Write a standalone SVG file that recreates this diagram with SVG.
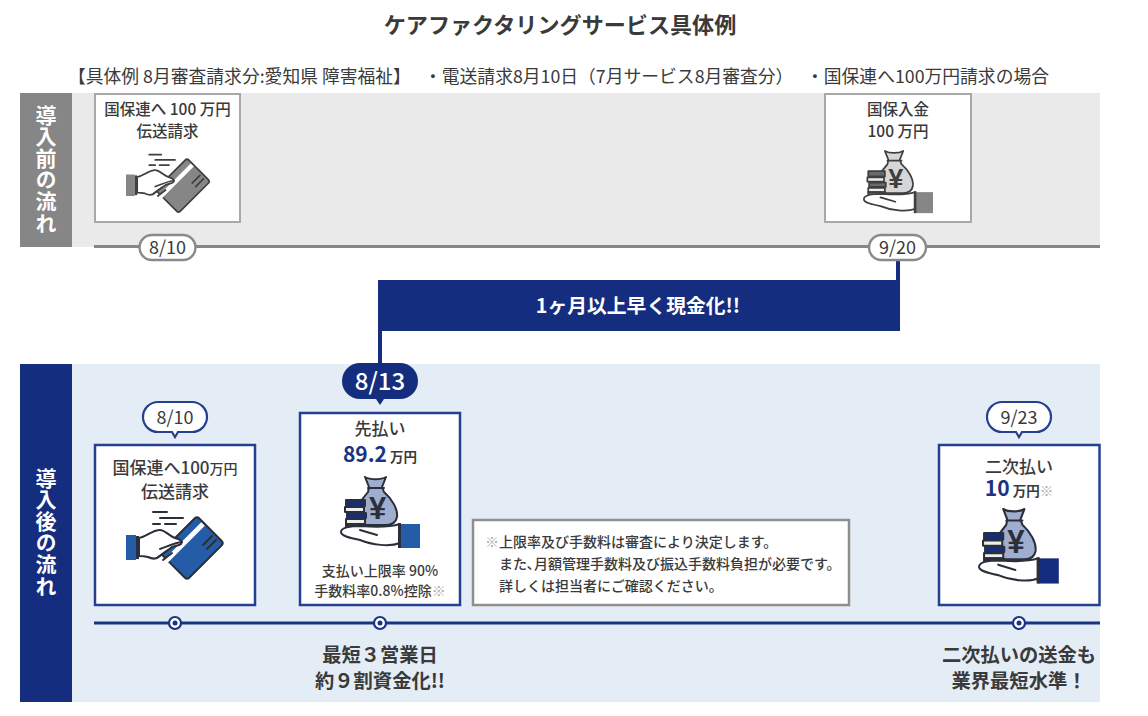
<svg xmlns="http://www.w3.org/2000/svg" width="1148" height="716" viewBox="0 0 1148 716">
<style>
text{font-family:"Noto Sans CJK JP","Noto Sans",sans-serif;fill:#3a3a3a;text-anchor:middle}
.b{font-weight:700}
.side{font-size:21px;font-weight:700;fill:#fff;writing-mode:vertical-rl;letter-spacing:.6px}
.t15{font-size:15.5px;font-weight:500}
.t17{font-size:17px;font-weight:500}
.t12{font-size:14px;font-weight:500}
.n{font-size:14px;font-weight:500;text-anchor:start}
.d{font-size:18px}
.lead{font-size:17.8px;font-weight:400;text-anchor:start}
.cap{font-size:19.3px;font-weight:700}
.navy{fill:#1a3484}
.gbox{fill:#fff;stroke:#a8a8a8;stroke-width:2}
.bbox{fill:#fff;stroke:#24408f;stroke-width:2.5}
.pill{fill:#fff;stroke:#8a8a8a;stroke-width:2.5}
.bub{fill:#fff;stroke:#24408f;stroke-width:2.2}
.dot{fill:#fff;stroke:#1a3484;stroke-width:2.2}
.ic{stroke:var(--k);stroke-width:2;stroke-linejoin:round;stroke-linecap:round}
.gr{--k:#3f3f3f;--a:#868686;--b:#d6d6d6;--c:#6b6b6b}
.bl{--k:#2b2f3a;--a:#245ca8;--b:#9fadcf;--c:#142d7e}
.bn{--k:#2b2f3a;--a:#142d7e;--b:#9fadcf;--c:#142d7e}
</style>
<defs>
<g id="card">
<path class="ic" fill="none" d="M27 2H41M34 8H57M27 14H34M39 14H50"/>
<rect class="ic" x="40" y="19" width="52" height="38" rx="3" transform="rotate(-45 66 38)" style="fill:var(--a)"/>
<path d="M36 55L77 14" stroke="#fff" stroke-width="5" fill="none"/>
<path class="ic" fill="none" d="M77 35L86 26M81 39L90 30"/>
<path class="ic" fill="#fff" d="M13 28C20 27 25 21 33 20C39 19 43 27 52 29C56 30 57 34 53 35L46 37L34 46C30 50 26 49 22 47C18 46 15 46 13 46Z"/>
<path class="ic" fill="#fff" d="M34 39C40 37 48 33 56 32M32 47L42 40M37 50L46 43"/>
<rect x="0" y="25" width="10" height="25" style="fill:var(--a)"/>
<rect x="10" y="26" width="3" height="23" style="fill:var(--k)"/>
</g>
<g id="bag">
<path class="ic" d="M25 0C30 3 41 3 46 0L42 10L44 15C52 22 58 32 57 40C56 45 52 48 46 48H26C22 46 20 30 20 25L28 15L29 10Z" style="fill:var(--b)"/>
<path class="ic" fill="none" d="M28 11H44"/>
<text x="37.500" y="42" style="font-size:31px;font-weight:700;fill:var(--k);font-family:'Liberation Sans',sans-serif">¥</text>
<g>
<rect class="ic" x="6" y="23" width="19" height="6" style="fill:var(--c)"/>
<rect class="ic" x="5" y="30" width="19" height="5" fill="#eee"/>
<rect class="ic" x="7" y="36" width="19" height="5" style="fill:var(--c)"/>
<rect class="ic" x="6" y="42" width="19" height="5" fill="#eee"/>
<rect class="ic" x="6" y="47" width="19" height="4" style="fill:var(--c)"/>
</g>
<path class="ic" fill="#fff" d="M60 47C50 50 35 50 22 49C12 49 1 50 1 55C1 59 10 61 20 63C32 68 50 70 60 66Z"/>
<path class="ic" fill="none" d="M20 53L37 58"/>
<rect x="60" y="47" width="20" height="24" style="fill:var(--a)"/>
<rect x="58" y="46" width="3" height="25" style="fill:var(--k)"/>
</g>
</defs>

<text id="title" x="560" y="33" class="b" style="font-size:22.100px">ケアファクタリングサービス具体例</text>
<g id="lead">
<text class="lead" x="68" y="83">【具体例 8月審査請求分:愛知県 障害福祉】</text>
<text class="lead" x="424" y="83">・電送請求8月10日（7月サービス8月審査分）</text>
<text class="lead" x="806" y="83">・国保連へ100万円請求の場合</text>
</g>

<g id="before-band">
<rect x="20" y="93" width="1080" height="154" fill="#eaeaea"/>
<rect x="20" y="93" width="52" height="154" fill="#868686"/>
<text class="side" x="46" y="169">導入前の流れ</text>
</g>
<g id="after-band">
<rect x="20" y="364" width="1080" height="338" fill="#e4edf5"/>
<rect x="20" y="364" width="52" height="338" fill="#142d7e"/>
<text class="side" x="46" y="532">導入後の流れ</text>
</g>

<g id="connectors">
<path d="M94 246.500H1100" stroke="#868686" stroke-width="3" fill="none"/>
<path d="M94 623H1100" stroke="#1a3484" stroke-width="3" fill="none"/>
<path d="M898 258V282M380 329V366" stroke="#142d7e" stroke-width="4" fill="none"/>
</g>

<g id="before-claim">
<rect class="gbox" x="95" y="94" width="145" height="128"/>
<text class="t15" x="167.500" y="115">国保連へ 100 万円</text>
<text class="t15" x="167.500" y="137">伝送請求</text>
<use href="#card" class="gr" transform="translate(126 153) scale(.86)"/>
</g>
<g id="before-date-1">
<rect class="pill" x="139.500" y="235" width="56" height="25" rx="12.500"/>
<text class="d" x="167.500" y="254">8/10</text>
</g>
<g id="before-pay">
<rect class="gbox" x="825" y="94" width="146" height="128"/>
<text class="t15" x="898" y="115">国保入金</text>
<text class="t15" x="898" y="137">100 万円</text>
<use href="#bag" class="gr" transform="translate(863 151) scale(.875)"/>
</g>
<g id="before-date-2">
<rect class="pill" x="869" y="235" width="57" height="25" rx="12.500"/>
<text class="d" x="897.500" y="254">9/20</text>
</g>

<g id="banner">
<rect x="378" y="280" width="522" height="51" fill="#142d7e"/>
<text class="b" x="638" y="313" style="font-size:19.800px;fill:#fff">1ヶ月以上早く現金化!!</text>
</g>

<g id="after-claim">
<rect class="bbox" x="95" y="445" width="160" height="160"/>
<text class="t17" x="175" y="474">国保連へ100<tspan style="font-size:14px">万円</tspan></text>
<text class="t17" x="175" y="498">伝送請求</text>
<use href="#card" class="bl" transform="translate(126 510)"/>
</g>
<g id="after-date-1">
<path class="bub" d="M158 402H192A15 15 0 0 1 192 432H178L175 437L172 432H158A15 15 0 0 1 158 402Z"/>
<text class="d" x="175" y="424">8/10</text>
</g>
<g id="after-pay">
<rect class="bbox" x="300" y="413" width="160" height="192"/>
<text class="t17" x="380" y="435">先払い</text>
<text class="b" x="380" y="462"><tspan class="navy" style="font-size:21px">89.2</tspan><tspan style="font-size:13.500px"> 万円</tspan></text>
<use href="#bag" class="bl" transform="translate(340 477)"/>
<text class="t12" x="380" y="576">支払い上限率 90%</text>
<text class="t12" x="380" y="596">手数料率0.8%控除<tspan style="fill:#aaa">※</tspan></text>
</g>
<g id="after-date-2">
<path d="M360 363H400A18 18 0 0 1 400 399H384L380 405L376 399H360A18 18 0 0 1 360 363Z" fill="#142d7e"/>
<text x="380" y="390" style="font-size:24px;fill:#fff;font-weight:500">8/13</text>
</g>
<g id="note">
<rect x="473" y="520" width="376" height="85" fill="#fff" stroke="#8f8f8f" stroke-width="2.500"/>
<text class="n" x="485" y="547"><tspan style="fill:#aaa">※</tspan>上限率及び手数料は審査により決定します。</text>
<text class="n" x="499" y="569">また､月額管理手数料及び振込手数料負担が必要です。</text>
<text class="n" x="499" y="591">詳しくは担当者にご確認ください。</text>
</g>
<g id="after-second">
<rect class="bbox" x="939" y="445" width="160.500" height="160"/>
<text class="t17" x="1019" y="473">二次払い</text>
<text class="b" x="1019" y="496"><tspan class="navy" style="font-size:21px">10</tspan><tspan style="font-size:13.500px"> 万円</tspan><tspan style="font-size:13.500px;fill:#aaa;font-weight:400">※</tspan></text>
<use href="#bag" class="bn" transform="translate(978 509) scale(1.01 1.05)"/>
</g>
<g id="after-date-3">
<path class="bub" d="M1002 402H1036A15 15 0 0 1 1036 432H1022L1019 437L1016 432H1002A15 15 0 0 1 1002 402Z"/>
<text class="d" x="1019" y="424">9/23</text>
</g>
<g id="dots">
<circle class="dot" cx="175" cy="623" r="6"/><circle cx="175" cy="623" r="2.500" fill="#1a3484"/>
<circle class="dot" cx="380" cy="623" r="6"/><circle cx="380" cy="623" r="2.500" fill="#1a3484"/>
<circle class="dot" cx="1019" cy="623" r="6"/><circle cx="1019" cy="623" r="2.500" fill="#1a3484"/>
</g>
<g id="caption-1">
<text class="cap" x="380" y="662">最短３営業日</text>
<text class="cap" x="380" y="688">約９割資金化!!</text>
</g>
<g id="caption-2">
<text class="cap" x="1019" y="662">二次払いの送金も</text>
<text class="cap" x="1019" y="688">業界最短水準！</text>
</g>
</svg>
